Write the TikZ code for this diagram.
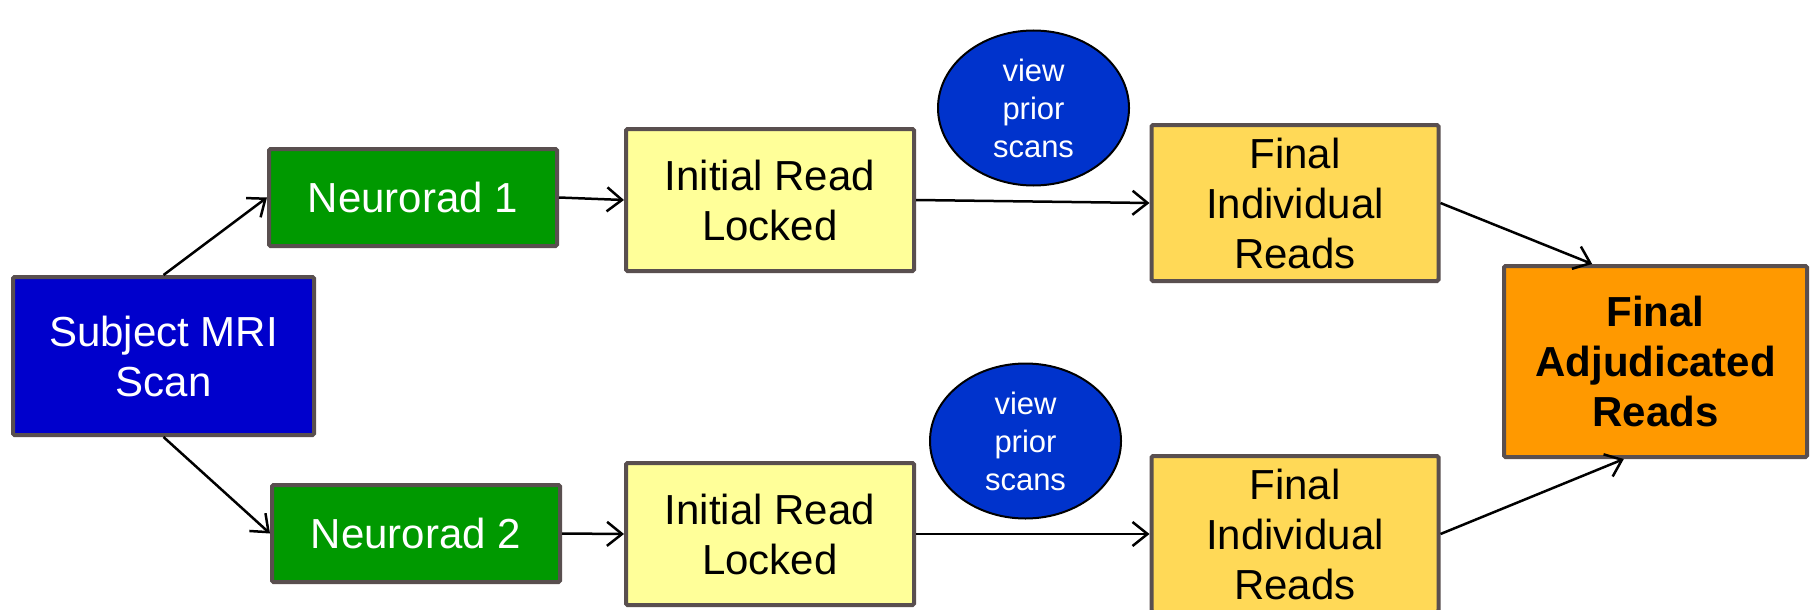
\documentclass[tikz,border=0pt]{standalone}
\usepackage{fontspec}
\setmainfont{Liberation Sans}
\usetikzlibrary{arrows.meta,shapes.geometric}

\definecolor{edgegray}{HTML}{594F4F}
\definecolor{subjblue}{HTML}{0000CC}
\definecolor{radgreen}{HTML}{009900}
\definecolor{paleyellow}{HTML}{FFFF99}
\definecolor{goldyellow}{HTML}{FFD957}
\definecolor{adjorange}{HTML}{FF9900}
\definecolor{priorblue}{HTML}{0033CC}

\tikzset{
  box/.style={draw=edgegray, line width=4pt, rounded corners=1.5pt,
    inner sep=0pt, align=center, font=\fontsize{42}{50}\selectfont},
  subjbox/.style={box, fill=subjblue, text=white, minimum width=301pt, minimum height=158pt},
  radbox/.style={box, fill=radgreen, text=white, minimum width=288pt, minimum height=97pt},
  lockbox/.style={box, fill=paleyellow, minimum width=288pt, minimum height=142pt},
  indivbox/.style={box, fill=goldyellow, minimum width=287pt, minimum height=156pt},
  adjbox/.style={box, fill=adjorange, minimum width=303pt, minimum height=191pt,
    font=\fontsize{42}{50}\selectfont\bfseries},
  priorbubble/.style={ellipse, draw=black, line width=2pt, fill=priorblue, text=white,
    inner sep=0pt, minimum width=191pt, minimum height=155pt, align=center,
    font=\fontsize{31}{38}\selectfont},
  flow/.style={draw=black, line width=2.5pt, -{Straight Barb[length=15pt,width=24pt,line width=2.5pt]}}
}

\begin{document}
\begin{tikzpicture}[x=1pt, y=-1pt]
  \clip (0,0) rectangle (1814,610);
  \fill[white] (0,0) rectangle (1814,610);

  % source scan
  \node[subjbox] (subj) at (163.5,356) {Subject MRI\\Scan};

  % two independent readers
  \node[radbox] (rad1) at (413,197.5) {Neurorad 1};
  \node[radbox] (rad2) at (416,533.5) {Neurorad 2};

  \node[lockbox] (lock1) at (770,200) {Initial Read\\Locked};
  \node[lockbox] (lock2) at (770,534) {Initial Read\\Locked};

  \node[priorbubble] (prior1) at (1033.5,108) {view\\prior\\scans};
  \node[priorbubble] (prior2) at (1025.5,441) {view\\prior\\scans};

  \node[indivbox] (indiv1) at (1295,203) {Final\\Individual\\Reads};
  \node[indivbox] (indiv2) at (1295,534) {Final\\Individual\\Reads};

  % adjudication
  \node[adjbox] (adj) at (1655.5,361.5) {Final\\Adjudicated\\Reads};

  % connectors
  \draw[flow] (subj.north) -- (rad1.west);
  \draw[flow] (subj.south) -- (rad2.west);
  \draw[flow] (rad1.east) -- (lock1.west);
  \draw[flow] (rad2.east) -- (lock2.west);
  \draw[flow] (lock1.east) -- (indiv1.west);
  \draw[flow] (lock2.east) -- (indiv2.west);
  \draw[flow] (indiv1.east) -- (adj.123);
  \draw[flow] (indiv2.east) -- (adj.252);
\end{tikzpicture}
\end{document}
